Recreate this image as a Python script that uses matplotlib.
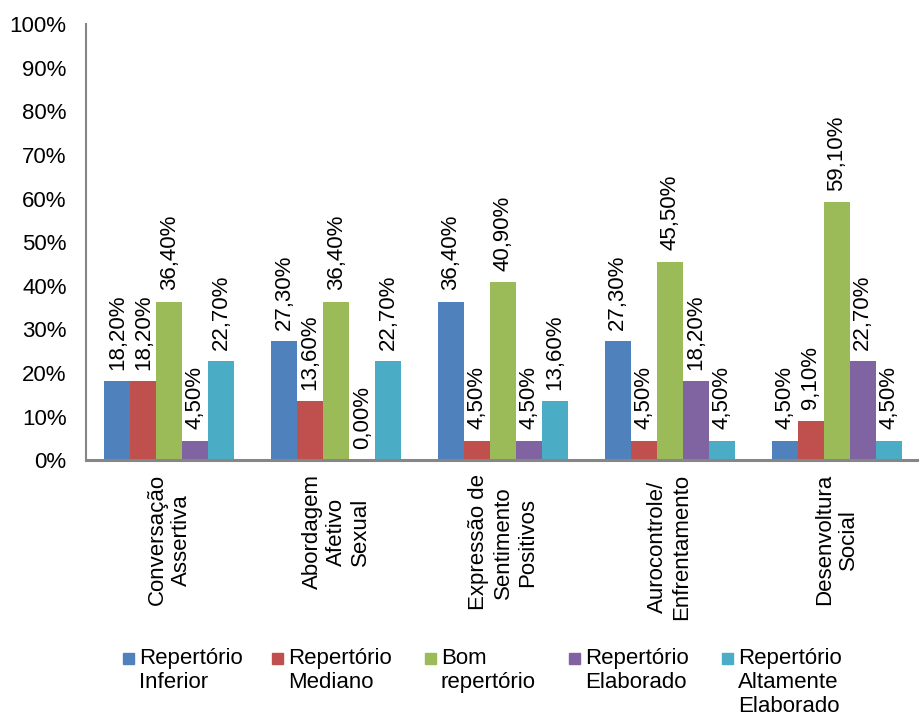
import matplotlib
matplotlib.use("Agg")
import matplotlib.pyplot as plt
import numpy as np
from matplotlib.patches import Rectangle

plt.rcParams['font.family'] = ['Liberation Sans', 'DejaVu Sans']

categorias = ["Conversação\nAssertiva", "Abordagem\nAfetivo\nSexual",
              "Expressão de\nSentimento\nPositivos", "Aurocontrole/\nEnfrentamento",
              "Desenvoltura\nSocial"]
series = ["Repertório\nInferior", "Repertório\nMediano", "Bom\nrepertório",
          "Repertório\nElaborado", "Repertório\nAltamente\nElaborado"]
inferior = [18.2, 27.3, 36.4, 27.3, 4.5]
mediano = [18.2, 13.6, 4.5, 4.5, 9.1]
bom = [36.4, 36.4, 40.9, 45.5, 59.1]
elaborado = [4.5, 0.0, 4.5, 18.2, 22.7]
altamente = [22.7, 22.7, 13.6, 4.5, 4.5]
valores = [inferior, mediano, bom, elaborado, altamente]
cores = ["#4F81BD", "#C0504D", "#9BBB59", "#8064A2", "#4BACC6"]

fs = 16

fig = plt.figure(figsize=(9.2, 7.17), dpi=100)
ax = fig.add_axes([0.0935, 0.358, 0.9065, 0.6085])

x = np.arange(len(categorias))
w = 0.156
for i, (vals, cor) in enumerate(zip(valores, cores)):
    pos = x + (i - 2) * w
    ax.bar(pos, vals, w, color=cor, edgecolor='none')
    for p, v in zip(pos, vals):
        ax.text(p, v + 2.6, f"{v:.2f}%".replace(".", ","), rotation=90,
                ha='center', va='bottom', fontsize=fs)

ax.set_xlim(-0.5, 4.5)
ax.set_ylim(0, 100)
ax.set_yticks(range(0, 101, 10))
ax.set_yticklabels([f"{t}%" for t in range(0, 101, 10)], fontsize=fs)
ax.tick_params(axis='y', length=0, pad=14)
ax.set_xticks(x)
ax.set_xticklabels(categorias, rotation=90, fontsize=fs, ha='center', va='top',
                   multialignment='center', linespacing=1.2)
ax.tick_params(axis='x', length=0, pad=10)
for s in ['top', 'right']:
    ax.spines[s].set_visible(False)
ax.spines['left'].set_color('#868686')
ax.spines['left'].set_linewidth(1.5)
ax.spines['bottom'].set_color('#868686')
ax.spines['bottom'].set_linewidth(2.2)

# legenda
leg_x = [123, 272, 425, 569, 722]
for lx, lab, cor in zip(leg_x, series, cores):
    fig.patches.append(Rectangle((lx / 920, 1 - 664 / 717), 11 / 920, 11 / 717,
                                 transform=fig.transFigure, color=cor))
    fig.text((lx + 16) / 920, 1 - 648 / 717, lab, ha='left', va='top',
             fontsize=fs, linespacing=1.2)

fig.savefig("out.png", dpi=100)
